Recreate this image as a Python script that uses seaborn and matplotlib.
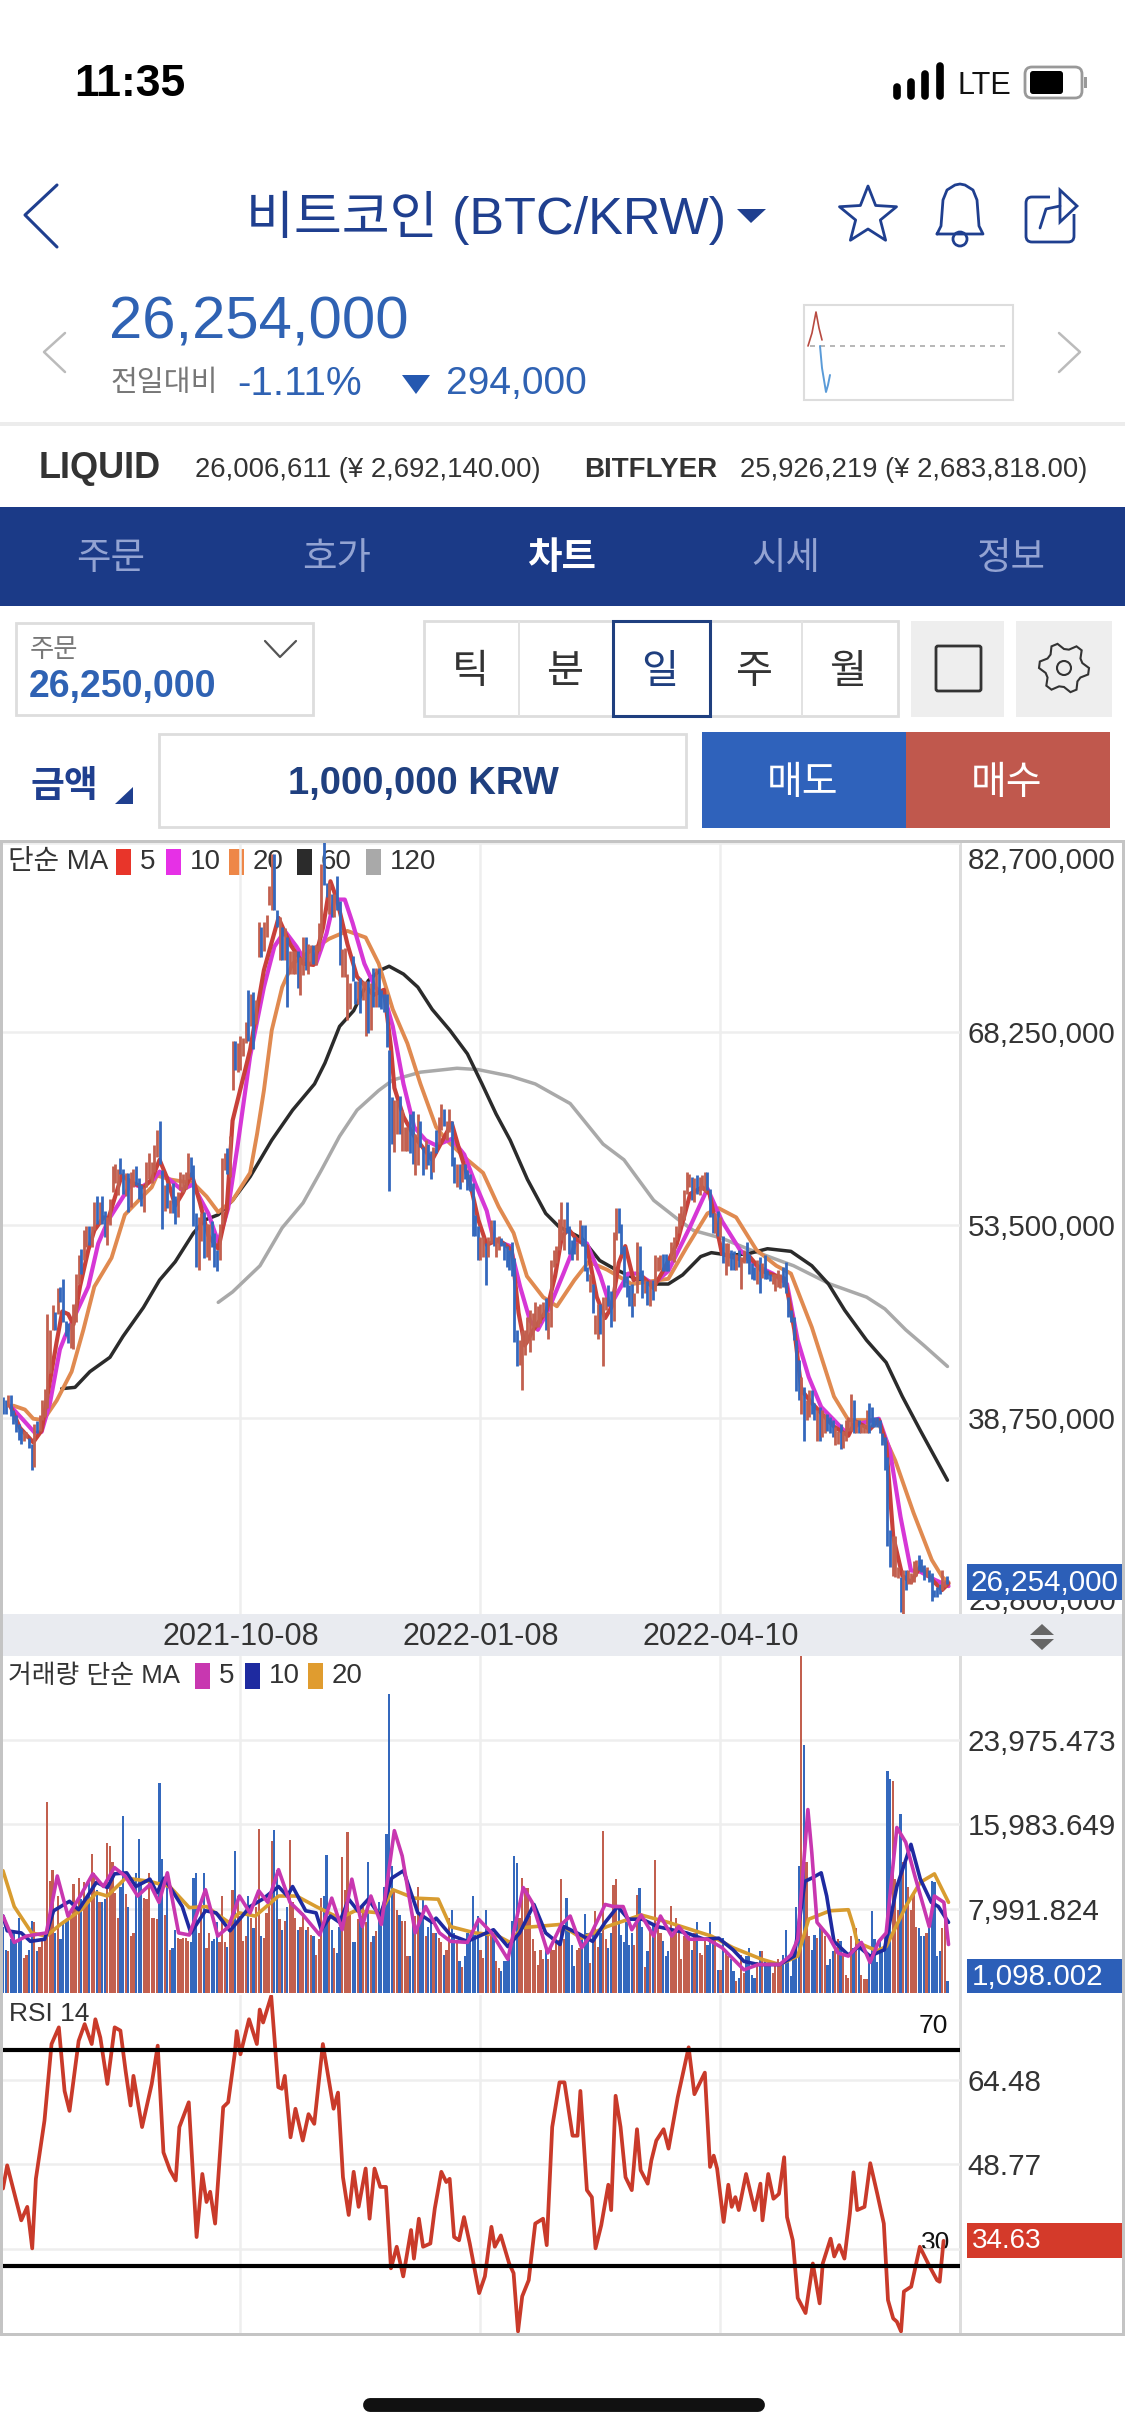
import numpy as np
import pandas as pd
import matplotlib
matplotlib.use("Agg")
import matplotlib.pyplot as plt
from matplotlib.patches import Rectangle, Polygon, FancyBboxPatch, Circle
import seaborn as sns

sns.set_theme(style="white")
plt.rcParams['font.family'] = ['Liberation Sans', 'Noto Sans CJK KR', 'DejaVu Sans']

W, H = 1125, 2436
BLUE = '#3468bd'
RED = '#c2604f'
NAVY = '#1f3f8f'

# daily candles, millions of KRW: (top, bottom, direction), one per day from the left edge
price_candles = [
    (40.4,39.1,'b'),(40.1,39.1,'b'),(40.5,39.6,'r'),(40.5,38.9,'b'),(39.4,38.3,'b'),(39.0,37.7,'b'),(38.3,37.1,'b'),(38.0,36.8,'b'),(37.8,37.0,'r'),(37.7,37.2,'r'),
    (37.2,36.5,'b'),(36.8,34.8,'b'),(38.3,35.0,'r'),(38.5,37.6,'b'),(39.0,37.8,'r'),(40.1,38.6,'r'),(41.0,38.8,'r'),(46.7,39.5,'r'),(45.5,42.2,'r'),(47.4,45.5,'r'),
    (46.9,45.5,'b'),(48.7,46.7,'r'),(48.8,47.6,'b'),(49.4,46.1,'b'),(46.2,45.0,'b'),(46.0,44.5,'b'),(46.0,44.1,'r'),(47.5,44.0,'r'),(49.8,46.1,'r'),(51.2,49.0,'r'),
    (51.7,49.8,'b'),(53.1,50.8,'r'),(53.4,51.8,'r'),(53.4,52.0,'b'),(53.4,51.8,'r'),(55.3,53.1,'r'),(55.7,53.6,'b'),(55.3,53.6,'r'),(55.7,53.6,'b'),(54.6,52.6,'b'),
    (54.1,52.0,'r'),(55.5,53.5,'r'),(58.0,56.0,'r'),(58.2,56.7,'r'),(57.8,55.8,'r'),(58.6,57.4,'b'),(57.8,55.9,'b'),(57.5,55.7,'r'),(57.5,54.5,'b'),(57.6,54.9,'r'),
    (57.8,56.4,'r'),(58.0,56.6,'b'),(57.1,55.5,'b'),(56.6,55.0,'b'),(56.4,54.5,'r'),(58.3,56.4,'r'),(59.0,57.0,'r'),(58.3,56.7,'r'),(59.6,57.6,'r'),(60.8,58.7,'r'),
    (61.5,58.2,'b'),(57.7,53.2,'b'),(56.6,54.6,'r'),(56.7,54.8,'b'),(55.4,54.4,'r'),(56.7,54.4,'b'),(55.7,53.6,'b'),(56.0,54.1,'r'),(57.6,56.2,'r'),(57.4,56.0,'r'),
    (57.6,56.3,'r'),(59.0,57.0,'r'),(58.7,57.2,'b'),(58.1,53.4,'b'),(54.4,50.3,'b'),(54.1,50.1,'r'),(54.4,52.3,'r'),(54.5,51.0,'b'),(53.6,51.1,'r'),(53.6,50.8,'r'),
    (53.8,51.8,'b'),(52.9,50.3,'b'),(51.6,50.0,'b'),(53.6,50.8,'r'),(58.6,53.6,'r'),(59.0,57.7,'r'),(59.4,57.4,'b'),(60.3,57.2,'r'),(67.6,63.8,'r'),(67.6,65.4,'b'),
    (67.4,65.2,'r'),(68.0,65.4,'r'),(67.8,66.4,'r'),(69.0,67.4,'r'),(71.5,67.6,'b'),(71.2,68.7,'r'),(71.3,67.0,'b'),(70.7,68.9,'r'),(76.7,74.0,'r'),(76.3,74.0,'b'),
    (76.7,74.5,'r'),(77.2,75.5,'r'),(79.4,78.0,'r'),(81.9,77.6,'r'),(81.9,77.6,'b'),(77.6,76.3,'b'),(77.1,73.8,'r'),(76.3,73.8,'b'),(76.2,73.8,'r'),(75.5,70.2,'b'),
    (74.5,72.7,'r'),(74.5,72.7,'r'),(74.5,72.7,'r'),(74.5,71.6,'b'),(74.0,71.1,'r'),(75.5,72.6,'r'),(75.5,73.0,'b'),(75.0,72.7,'r'),(74.9,73.5,'r'),(74.9,73.5,'b'),
    (74.9,73.4,'r'),(76.6,74.5,'r'),(81.1,75.5,'r'),(82.8,79.5,'b'),(79.7,78.6,'b'),(79.7,77.3,'r'),(78.8,77.1,'b'),(78.8,77.1,'r'),(80.2,77.6,'b'),(78.3,73.4,'b'),
    (74.6,72.5,'r'),(74.7,72.5,'r'),(72.7,69.2,'r'),(72.0,70.0,'r'),(74.1,72.2,'b'),(72.2,70.4,'b'),(72.2,70.4,'r'),(72.4,69.7,'b'),(72.2,70.7,'r'),(72.2,68.0,'r'),
    (72.2,68.2,'b'),(72.0,68.4,'r'),(73.2,70.2,'b'),(73.2,70.2,'r'),(73.2,70.2,'b'),(71.5,70.0,'b'),(71.2,69.8,'b'),(71.2,67.1,'b'),(66.9,56.1,'b'),(63.3,59.7,'b'),
    (63.1,59.1,'r'),(63.1,60.5,'r'),(63.4,60.5,'b'),(62.3,59.2,'r'),(61.0,59.2,'r'),(61.0,59.2,'r'),(62.0,59.0,'b'),(62.2,58.2,'b'),(60.5,57.3,'r'),(62.0,58.1,'r'),
    (61.5,59.5,'b'),(59.5,57.3,'b'),(60.0,57.8,'r'),(59.7,58.1,'b'),(59.2,57.0,'b'),(59.5,57.6,'r'),(60.8,59.0,'b'),(61.8,59.7,'r'),(62.8,60.8,'r'),(62.4,61.1,'b'),
    (61.5,60.0,'r'),(62.4,60.6,'r'),(61.5,58.0,'b'),(58.7,56.7,'b'),(58.2,56.4,'r'),(58.2,56.3,'b'),(58.2,56.8,'r'),(58.2,57.0,'b'),(57.7,56.2,'b'),(57.4,56.1,'b'),
    (56.7,52.7,'b'),(54.3,52.7,'b'),(53.4,50.8,'b'),(52.6,50.8,'r'),(52.6,51.1,'r'),(52.1,48.9,'b'),(52.6,51.1,'r'),(53.9,52.1,'r'),(53.9,51.9,'b'),(52.6,51.1,'r'),
    (52.7,51.6,'r'),(52.5,51.9,'b'),(52.2,50.8,'b'),(51.9,50.3,'b'),(51.6,50.1,'b'),(52.2,49.6,'b'),(51.0,44.6,'b'),(45.5,42.7,'b'),(44.7,42.8,'r'),(45.5,40.9,'r'),
    (45.5,43.6,'r'),(46.5,44.5,'r'),(47.0,43.8,'r'),(46.8,44.7,'r'),(47.6,45.7,'r'),(47.3,45.7,'r'),(47.5,46.0,'r'),(47.6,46.5,'r'),(47.9,45.5,'b'),(46.9,44.8,'r'),
    (50.8,45.7,'r'),(51.6,50.3,'r'),(51.9,50.6,'r'),(54.0,51.6,'r'),(55.3,52.4,'r'),(54.0,51.6,'r'),(55.3,52.9,'b'),(53.4,51.3,'b'),(52.4,50.8,'b'),(52.6,51.3,'b'),
    (52.2,50.8,'r'),(53.9,52.4,'r'),(53.5,51.9,'b'),(53.5,50.0,'b'),(50.3,49.2,'b'),(49.8,48.4,'r'),(49.0,46.8,'b'),(46.6,45.2,'r'),(47.5,44.8,'r'),(47.5,45.2,'b'),
    (48.0,42.7,'r'),(48.0,47.0,'r'),(48.9,47.3,'b'),(48.5,45.7,'b'),(53.0,46.2,'r'),(54.8,52.4,'r'),(54.8,52.9,'b'),(53.6,51.3,'b'),(51.9,48.8,'b'),(49.6,48.0,'b'),
    (48.9,47.3,'b'),(49.0,46.5,'b'),(48.3,47.3,'r'),(52.2,48.3,'r'),(51.9,49.3,'b'),(50.1,47.9,'b'),(49.3,48.3,'r'),(49.2,47.4,'b'),(49.3,47.3,'r'),(49.3,47.8,'b'),
    (51.2,48.5,'r'),(51.1,50.0,'r'),(51.2,50.1,'r'),(51.3,50.0,'b'),(51.3,50.0,'b'),(50.8,50.0,'b'),(52.2,50.8,'r'),(52.6,50.7,'r'),(53.4,52.4,'r'),(54.4,52.9,'r'),
    (55.0,53.5,'r'),(56.2,53.9,'r'),(57.6,55.9,'r'),(57.4,56.4,'r'),(57.2,55.4,'b'),(57.1,55.3,'r'),(57.3,55.9,'b'),(57.2,55.8,'r'),(57.3,56.2,'r'),(57.6,56.0,'r'),
    (57.6,56.2,'b'),(56.3,54.1,'b'),(54.4,52.9,'b'),(54.4,52.9,'r'),(54.6,52.7,'b'),(54.1,52.6,'r'),(52.7,50.6,'b'),(52.1,49.7,'r'),(52.1,50.4,'r'),(51.6,50.1,'b'),
    (51.5,50.1,'b'),(51.3,50.1,'r'),(51.6,50.3,'b'),(51.1,48.6,'r'),(51.6,50.6,'r'),(52.2,50.6,'b'),(51.3,49.8,'b'),(50.6,49.4,'b'),(50.3,49.3,'b'),(50.8,49.0,'r'),
    (51.1,48.3,'b'),(50.6,49.5,'r'),(51.2,49.4,'b'),(50.1,49.4,'b'),(49.8,49.2,'b'),(49.8,49.0,'r'),(49.8,48.5,'r'),(50.1,48.8,'r'),(49.8,48.7,'r'),(50.3,48.8,'b'),
    (50.7,48.3,'b'),(48.0,46.5,'b'),(47.0,46.1,'b'),(46.5,44.7,'b'),(44.7,40.8,'b'),(43.2,40.1,'b'),(41.9,39.1,'r'),(41.1,37.0,'b'),(40.1,38.6,'r'),(40.9,38.8,'r'),
    (40.9,39.1,'b'),(39.9,38.6,'b'),(39.4,37.0,'r'),(39.6,37.0,'b'),(39.4,37.3,'r'),(39.1,37.6,'r'),(39.1,37.8,'b'),(38.8,37.6,'b'),(38.6,37.3,'b'),(38.1,36.7,'r'),
    (37.8,36.8,'r'),(38.3,36.4,'b'),(37.8,36.5,'r'),(38.6,37.0,'r'),(38.8,37.8,'r'),(40.6,37.8,'r'),(40.1,37.6,'b'),(38.6,37.6,'r'),(38.6,37.6,'b'),(38.3,37.6,'r'),
    (38.3,37.6,'r'),(39.4,37.6,'r'),(39.9,37.6,'b'),(39.6,38.1,'b'),(38.8,38.1,'b'),(38.8,38.1,'b'),(38.6,37.6,'b'),(37.6,36.7,'b'),(37.3,34.8,'b'),(35.8,29.0,'b'),
    (30.2,27.4,'b'),(29.7,26.7,'r'),(29.7,26.6,'r'),(27.4,26.5,'r'),(26.6,23.9,'b'),(27.1,23.8,'r'),(27.1,25.6,'b'),(27.1,26.1,'r'),(26.9,26.1,'r'),(27.8,26.2,'r'),
    (27.9,26.7,'r'),(28.3,27.1,'b'),(28.0,27.0,'b'),(27.5,26.4,'b'),(27.4,26.6,'r'),(27.1,26.2,'b'),(26.9,24.8,'b'),(25.6,25.1,'b'),(25.8,25.1,'b'),(26.1,25.3,'b'),
    (27.1,25.6,'r'),(26.4,25.8,'r'),(26.7,26.1,'b'),
]

# moving averages as (day, value)
ma5_points = [(3,39.6),(6.5,38),(11.6,36.9),(14.8,37.8),(17.4,40.9),(20.5,44.5),(22.7,46.9),(25,46.7),(27,45.9),(29.5,48.8),(32.7,51.6),(35,53.1),(38.5,54.1),(40.4,54),(43,55.7),(45.5,57.3),(50,56.7),(54,56.4),(57,57),(60,58.5),(62.7,57.2),(66,55),(69,56),(72.3,57.4),(75.5,55.2),(78.7,52.7),(82.5,51.7),(85.7,54.6),(88,61.5),(94.7,66.9),(100,73),(105.6,77),(110,75),(115,73.5),(119,73.4),(122.7,76.3),(125.5,79.8),(128,78.4),(132,75),(135.7,72.5),(142,71.1),(146,71.5),(148.7,67.1),(150,64),(153.5,61.8),(157.6,60.3),(164.5,58.5),(168.5,60),(172,61.3),(175,59.2),(179.6,56.2),(182.2,53.9),(185.4,52),(190,52.4),(195,51.6),(197.6,46.8),(200,44.3),(203.3,45.5),(208.4,47),(211.6,49.6),(214.2,52.6),(216.7,53.2),(220,52.4),(223.8,51.9),(227.6,48),(230.8,46.4),(233.4,47.3),(236,50.6),(238.5,51.9),(241.7,49.3),(244.9,49.6),(249.3,48.7),(253.8,50.3),(258.3,52.1),(263.4,55.9),(268,56.4),(270.8,55.9),(275.6,51.3),(284,50.8),(285.3,51.3),(290.8,50),(299.8,49.4),(303.3,45.5),(306,40.9),(310,39.9),(318.5,38.1),(324,37.4),(326.7,38.5),(332.3,37.9),(335.7,38.6),(338.5,36.8),(341.2,29.7),(344.7,26.7),(348,26.2),(351.6,27.4),(357,26.2),(359.9,25.6),(362.4,26.1)]
ma10_points = [(2.7,39.7),(7.8,38.6),(12.3,37.6),(14.8,37.7),(18,39.9),(21.8,44),(23.8,45),(27.6,46.6),(32.7,48.8),(36.5,52.1),(40.4,53.9),(45.5,55.5),(49.3,56.7),(53,56.4),(57.6,57),(60,57.6),(65,56.8),(68.5,56.2),(72.7,56.6),(78.7,54.4),(82.5,52.2),(86.3,54.8),(90,59.7),(94.7,66.4),(100,71.7),(104,74.8),(108,76),(112.5,74.8),(116.5,73.5),(120,73.5),(124,75.8),(127,78.4),(131,78.4),(134,76.6),(138.5,73.5),(142.6,71.7),(146,71.1),(149.4,68.7),(153.5,64.3),(157.6,61),(162,60),(166,59.6),(172,60.1),(176.8,58.9),(181,56.7),(185.4,54.6),(188,52.4),(194.4,51.9),(198.2,48.8),(202,46.2),(205,45.5),(209,47),(214.8,49.8),(220,52.4),(223.8,52.1),(229,49.6),(232.7,47.3),(236,48.5),(239.7,49.8),(243,49.8),(249.3,49),(255,50),(263.4,53.4),(270,56.3),(275.6,53.8),(282.5,51.6),(288.8,50.4),(295,49.8),(300.5,49),(304.6,44.7),(308.8,41.9),(313.6,39.6),(318.5,38.6),(323.3,37.6),(328,38.3),(335.7,38.7),(339.9,36.3),(344,31.2),(348,27.1),(351.6,27),(357,26.4),(362.4,25.9)]
ma20_points = [(4,39.7),(8.4,39.4),(11.6,38.7),(15.5,38.6),(20.6,40.1),(26.3,42.3),(30.8,45.5),(35,48.8),(41.6,51),(46.7,54.3),(52.5,55.5),(57,56.4),(59,57.3),(64,57),(73,56.7),(78,55.7),(82.5,54.5),(88,55.4),(94.7,57.5),(97.4,60.5),(100,63.8),(103,68.4),(107,71.7),(111,73.5),(118,74.5),(125,75.4),(132,76),(139,75.5),(144,73.5),(149.4,70),(155,67.4),(160,64.3),(166,61),(170,60),(178,58.5),(184,57.5),(190,54.9),(195.7,52.9),(200.8,49.6),(207,48),(212.3,47.3),(219,49.3),(224.5,50.7),(231.5,50.1),(241,49),(255,49.4),(262,51.8),(270,54.4),(274.3,54.8),(281,54.1),(288.8,51.6),(296.4,50.4),(302,49.8),(310,45.7),(318.5,40.4),(324,38.6),(335,38.6),(342,35.5),(349,31.5),(356,27.9),(360,26.6),(362.4,26.2)]
ma60_points = [(22.5,41),(27.6,41.1),(33.3,42.3),(41,43.4),(46,45),(53.8,47.2),(60,49.3),(66,50.7),(73,52.9),(77.4,53.9),(82.5,54.3),(88,55.4),(94.7,57.2),(103,60),(111,62.3),(119.4,64.3),(123.4,65.9),(129,68.7),(134.4,69.9),(140,72.2),(144.6,73),(148,73.3),(153.5,72.7),(159,71.7),(164.5,70),(171.3,68.4),(178,66.6),(183.6,64.3),(189,62),(194.4,60),(201,57),(208,54.4),(213,53.4),(221.8,52.5),(228.7,50.8),(234,50.2),(242.5,49.4),(249.4,49),(255,49),(260.5,49.7),(267.4,51.1),(271.5,51.4),(278.4,51.2),(285.3,51.3),(293,51.7),(302,51.5),(310,50.4),(316.4,49),(322.6,47),(331,44.7),(338.5,43),(344.7,40.4),(351.6,37.8),(362,34)]
ma120_points = [(82.5,47.6),(88,48.4),(98.5,50.4),(107,53.3),(115,55.2),(122,57.7),(129,60.3),(135.7,62.3),(144,63.8),(149.4,64.6),(160,65.2),(174,65.5),(182,65.4),(194.4,64.9),(204,64.3),(217.4,62.8),(230,59.7),(238,58.5),(249.4,55.4),(259,53.9),(264.6,53.1),(275.6,52.5),(285.3,51.7),(303,50.4),(317,49),(331,48),(338,47.1),(346,45.5),(353,44.3),(362,42.7)]

# volume in thousands, one per day
volumes = [
    6.3,4.1,4.0,5.1,5.7,4.9,7.1,5.1,3.3,3.6, 4.1,6.8,6.7,4.0,4.4,4.9,5.1,18.1,10.6,11.7,
    5.7,9.2,5.1,6.7,6.7,7.3,7.3,10.3,8.2,10.9, 8.9,10.5,8.9,10.8,13.2,11.4,9.8,8.6,8.6,8.9,
    14.2,13.9,12.4,9.5,7.1,10.1,16.8,9.4,8.2,5.4, 5.7,11.4,14.6,10.8,9,8.9,11.4,7.1,7.1,7,
    19.9,12.7,7.4,11.4,4.1,4.3,6,5.2,5.1,5.2, 5.2,4.9,4.8,10.9,11.4,5.7,8.6,11.4,4.3,5.7,
    4.9,5.1,6.7,4.8,9.2,4.8,4.4,6,9.8,13.5, 9.2,7.3,4.9,5.4,9.2,7.1,6.2,8.2,15.6,5.4,
    5.2,7.6,8.6,14.4,15.5,11.7,7,6,6.8,8.2, 14.5,8.6,7.1,6,6.3,7.6,6,6.3,5.5,5.4,
    3.6,5.1,9,9.2,13.1,7,6,4.3,3.8,6.3, 12.9,9.8,15.3,7.4,4.8,4.8,7,7.3,8.2,6.7,
    12.4,4.8,5.4,5.9,8.6,6.7,10.1,15.1,28.4,12, 9.8,7.9,7.4,6.8,6.8,3.5,3.5,7.4,7.3,10.1,
    7.3,8.9,5.4,6.3,6.7,5.7,5.7,5.2,4.8,3.6, 4.1,7.1,7.9,5.7,4.9,3.0,2.5,3.5,5.7,5.4,
    9.2,5.5,7.3,4.1,3.3,7.9,5.7,5.4,5.4,3, 2.4,2.1,3,3,4.1,6.8,13,12.3,7.1,10.9,
    10,10,7.3,5.1,4,2.7,4.1,3.2,4.6,3.2, 4.4,4.1,4.8,5.0,
    10.8,5.1,9,6.2,4.6,2.6,4.1,4.3,5.1,7.5, 5.7,2.8,5.7,7.8,4.4,5.7,15.4,5.1,4.3,5.7,
    10.2,10.8,7.9,5.5,4.8,6.7,4.6,5.7,4.6,9.3, 10,6.3,2.5,4,6.3,6.5,12.6,6.3,5.7,4.9,
    3.5,4,8.3,5.7,7.1,6,3.2,5.4,5.7,5.4, 4.1,5.7,6.7,3.8,3.6,5.1,4.6,6.7,5.1,5.1,
    2.2,2.2,5.2,3.8,3.5,3.2,2.1,1.1,1.4,3.6, 1.9,3.5,4.3,1.7,1.4,2.9,4,4,3,2.7,
    2.7,1.9,2.7,3.2,2.7,3.6,6,3.5,1.6,3.2, 8.2,12,32,23.5,12.4,5.4,4.1,5.5,5.2,6.3,
    6.3,5.4,2.7,3.2,4,4.1,5.1,4.9,3.5,1.7, 1.4,5.4,4.3,6.2,5.1,1.7,1.3,1.3,3.5,7.8,
    5.1,2.9,5.1,4.3,5.7,21.1,20.3,20.1,10.8,7.9, 17,12.4,12.4,10.1,7.9,9.5,6.3,6.2,5.4,5.4,
    5.7,7,10.6,10.5,3.5,4,6.2,8.4,1.1,
]
vol_ma5_points = [(0,7.3),(4.3,4.8),(9,5.4),(16.6,5.7),(20.8,11.1),(24.9,7.3),(29.6,9.2),(34.4,11.3),(38.5,10.1),(42.7,11.9),(46.8,11.1),(51.6,9.2),(56.4,10.3),(59.8,8.6),(63,11.4),(67.3,5.7),(71.4,5.5),(77.6,9.8),(82.3,5.4),(86.5,6.3),(90.6,9.2),(94.7,7.6),(98,9.7),(101.5,8.6),(105.6,11.7),(110,8.6),(115,7.4),(121.4,5.5),(126,9),(130,6),(133.7,10.8),(137.7,6.3),(141,9.2),(145,6.5),(150,15.4),(153,13),(158,5.7),(162,8.2),(167.3,5.7),(171.5,4.9),(178,4.8),(182.3,7),(187.3,5.7),(193.5,3.2),(199.4,10),(202.8,8.6),(208.8,3.8),(214,6.5),(217.4,7.3),(221.8,4.3),(225,5.4),(230.8,8.4),(234,8.2),(237.7,8.2),(241,6),(244.6,7.4),(249.4,5.4),(252,7.3),(256.3,5.4),(259,6.3),(263,5.1),(270,5.1),(275.6,4.3),(284,2.2),(289.5,2.7),(297.7,2.7),(302,3.6),(304.6,5.1),(308.5,17.4),(310,13.3),(312,6.7),(316.4,5.4),(320,3.8),(324,3.5),(329,4.8),(332.3,2.9),(335.7,4.9),(338.5,5.7),(342.6,15.7),(346,14.3),(349.5,11.1),(355,6.3),(357,9.2),(360.6,8.6),(362.4,4.6)]
vol_ma10_points = [(0,7.3),(1.6,5.9),(7,5.7),(10.5,4.9),(16,5.1),(19.4,7.8),(25.5,8.7),(29,7.9),(35.8,10.5),(40,10),(42.7,11.3),(47.4,11.4),(50.9,10.1),(56.3,10.8),(59,9.5),(61.8,10.9),(68.7,8.2),(72,5.7),(77.6,7.8),(81.7,7.6),(87,5.9),(94.7,8.2),(99.5,8.9),(105.6,10.1),(109,9.2),(111,10.1),(116,7.8),(120,7.6),(122,6),(125.5,7.3),(129,6.7),(132.5,8.9),(136,7.8),(140,8.9),(144.6,7.3),(149,10.9),(153.5,11.6),(159,7.6),(164.5,6.7),(166,7.1),(171.5,5.5),(178,4.9),(188,6),(193.5,4.4),(198,5.7),(203.5,8.4),(208,5.7),(213.5,4.6),(215,6.3),(220,5.7),(226,4.9),(230.8,6.7),(235.6,8.2),(239.7,7),(245,7),(250.8,6.3),(256.3,6),(262,5.7),(268.7,5.1),(274.3,5.2),(279.8,4.1),(284,3),(289.5,2.7),(297.7,2.7),(303.3,3.5),(307.4,10.6),(310,10.9),(313.6,11.4),(315.7,9.2),(318.5,4.9),(324,3.6),(328,4.4),(332.3,3.5),(337.8,4.1),(342.6,10.1),(348,14.1),(351.6,10.8),(355.8,8.6),(358.5,8.2),(362.4,6.7)]
vol_ma20_points = [(0,11.6),(4.3,8.2),(11,5.7),(16.6,5.4),(22,6.5),(30,7.9),(35.8,9.5),(40,9.2),(47,10.9),(56,10.6),(63.9,10.1),(71.4,8.1),(78,8.2),(86.5,6.7),(90.6,7.6),(96.7,7.3),(105.6,9.2),(112.5,9.2),(120,8.2),(129,7.1),(135,7.8),(144.6,7.6),(149.4,9.8),(157.6,9),(166.8,8.9),(171.5,6.3),(180.9,5.7),(189,5.5),(194.3,4.8),(199,6.2),(204,6.3),(213.5,6.5),(221.8,5.2),(231.5,6.3),(244.6,7.4),(255,6.7),(271.5,5.4),(279.8,4.3),(290.8,3.2),(297.7,2.7),(304.6,3.5),(308.8,7),(317,7.8),(324,7.9),(326,6.3),(327.4,4.8),(335,4),(338.5,4.4),(346,8.2),(351.6,10.5),(357,11.3),(362.4,8.6)]

rsi_points = [(0,44.3),(1.6,48.6),(4.4,43.3),(7,38.4),(9.3,40.9),(11.2,33.2),(12.6,46.1),(15.9,56.9),(18.6,71.1),(21.4,74.2),(23.6,62.4),(25.5,58.7),(29,71.7),(31.3,74.8),(34,71.1),(35.4,75.7),(37.3,72.3),(40,63.7),(42.8,74.2),(45,73.6),(47,66.1),(48.9,59.7),(50,65.2),(53.3,55.7),(57,63.7),(59.3,70.8),(61.5,51),(64,47.7),(66.2,45.8),(67.6,55.7),(71.2,60.3),(74.2,35.3),(76.4,47),(78,41.8),(79.4,43.7),(81.3,37.8),(84.4,59.4),(86.3,60.3),(88.8,69.2),(89.6,73.5),(91,69.2),(94.3,75.7),(97.3,71.1),(98.4,77.5),(99.7,75.1),(102.8,80),(105.5,63.1),(106.9,62.8),(108,65.2),(110.2,53.8),(112.1,59.1),(114.9,53.2),(117.1,58.1),(119.3,56.3),(122.6,71.1),(126.7,59.1),(128.4,62.1),(130.3,46.4),(132.5,39.4),(134.4,47.4),(136.3,40.9),(139,48),(140.5,38.7),(142.4,48),(144.6,44.6),(146.8,44.6),(148.7,29.5),(150.9,33.5),(153.4,28),(156.4,36.6),(157.5,31.3),(159.4,38.7),(161,33.5),(163.8,34.1),(165.5,40.6),(168,47.4),(169.9,45.5),(171.2,46.1),(172.9,35.3),(174.8,34.7),(176.7,39),(178.9,34.1),(182.5,24.9),(184.7,28),(187.2,37.2),(188.5,33.5),(190.8,35.6),(194,30.4),(195.7,28.6),(197.4,17.8),(199,24.3),(201.5,27.3),(204,37.8),(207,38.7),(208.4,33.8),(210.5,55.7),(213.3,64),(215.2,64),(218.3,54.1),(220.2,54.1),(221.3,62.4),(223.8,44),(225.7,42.7),(227.1,33.2),(229.3,37.5),(232,45),(233.1,40.3),(234.8,61.5),(236.7,55.7),(238.6,46.4),(241,44),(243,55.3),(244.4,47.7),(247.1,45.2),(248.5,49.5),(250.4,53.2),(253.2,55.3),(255.1,51.7),(258.6,61.2),(262.8,70.5),(265,61.8),(266.9,63.7),(269,65.8),(271,48.3),(272.4,50.4),(273.7,48),(276.2,38.1),(278,45),(279.3,40.9),(280.7,42.7),(282,40.3),(284.8,47),(288.1,40.3),(290.3,45.2),(291.1,38.4),(293.3,47),(295.3,42.4),(297.4,43.3),(299.4,50.1),(300.5,39),(302.7,34.7),(304.6,24),(307.6,21.2),(310.4,30.4),(313,23),(314.2,30.4),(317.2,35),(318.6,31.7),(320.5,33.8),(322.5,31.3),(324.6,39.7),(326,47.3),(327.4,40.3),(330.2,40.9),(332.4,49),(335.1,43.3),(337.6,37.8),(339.2,23.6),(341.2,20.2),(342.6,19.6),(344.2,17.8),(345.3,25.2),(348.1,26.1),(351.4,33.5),(355.2,29.8),(358,27.3),(359,27),(360.5,34.6)]

date_ticks = [91, 183, 275]
date_labels = ['2021-10-08', '2022-01-08', '2022-04-10']
price_ticks = [82.7, 68.25, 53.5, 38.75]
price_tick_labels = ['', '68,250,000', '53,500,000', '38,750,000']
vol_ticks = [7.991824, 15.983649, 23.975473]
vol_tick_labels = ['7,991.824', '15,983.649', '23,975.473']
rsi_ticks = [33.06, 48.77, 64.48]
rsi_tick_labels = ['', '48.77', '64.48']


def px_axes(fig, x0, y0, x1, y1, z=1):
    ax = fig.add_axes([x0 / W, 1 - y1 / H, (x1 - x0) / W, (y1 - y0) / H], zorder=z)
    ax.patch.set_visible(False)
    return ax


def style_panel(ax, ymin, ymax, ticks, labels):
    ax.set_xlim(0, 366.8)
    ax.set_ylim(ymin, ymax)
    ax.set_xticks(date_ticks)
    ax.set_xticklabels([])
    ax.yaxis.tick_right()
    ax.set_yticks(ticks)
    ax.set_yticklabels(labels, fontsize=21.3, color='#333333')
    ax.tick_params(axis='both', length=0, pad=5.5)
    ax.grid(True, color='#eeeeee', linewidth=1.8)
    ax.set_axisbelow(True)
    ax.set_xlabel('')
    ax.set_ylabel('')
    for s in ax.spines.values():
        s.set_visible(False)


def draw_line(ax, points, color, lw):
    xs, ys = zip(*points)
    sns.lineplot(x=list(xs), y=list(ys), color=color, linewidth=lw, estimator=None, ax=ax, legend=False)


def rect(ax, x0, y0, x1, y1, fc='none', ec='none', lw=0, z=2):
    ax.add_patch(Rectangle((x0, y0), x1 - x0, y1 - y0, facecolor=fc, edgecolor=ec, linewidth=lw, zorder=z))


def txt(ax, x, y, s, size, color='#333333', ha='left', weight='normal', z=5):
    ax.text(x, y, s, fontsize=size, color=color, ha=ha, va='center', fontweight=weight, zorder=z)


def legend_row(ax, y, title, title_size, title_end, entries):
    txt(ax, 8, y, title, title_size)
    x = title_end
    for color, label, gap in entries:
        rect(ax, x, y - 13, x + 15, y + 13, fc=color)
        txt(ax, x + 24, y, label, 20)
        x += gap


fig = plt.figure(figsize=(W / 100, H / 100), dpi=100, facecolor='white')

back = px_axes(fig, 0, 0, W, H, z=0)
back.set_xlim(0, W)
back.set_ylim(H, 0)
back.axis('off')
front = px_axes(fig, 0, 0, W, H, z=5)
front.set_xlim(0, W)
front.set_ylim(H, 0)
front.axis('off')

# --- price panel ---
ax_price = px_axes(fig, 3, 842, 960, 1614, z=2)
days = np.arange(len(price_candles))
tops = [c[0] for c in price_candles]
bottoms = [c[1] for c in price_candles]
dirs = [c[2] for c in price_candles]
ax_price.vlines(days, bottoms, tops, colors=[RED if d == 'r' else BLUE for d in dirs], linewidth=2.0, zorder=3)
draw_line(ax_price, ma120_points, '#a9a9a9', 2.5)
draw_line(ax_price, ma60_points, '#2b2b2b', 2.5)
draw_line(ax_price, ma20_points, '#e08a50', 2.8)
draw_line(ax_price, ma10_points, '#d637d6', 3.0)
draw_line(ax_price, ma5_points, '#c8413a', 3.0)
style_panel(ax_price, 23.77, 82.8, price_ticks, price_tick_labels)
ax_price.set_xticklabels(date_labels, fontsize=22, color='#333333')
ax_price.tick_params(axis='x', pad=6)

# --- volume panel ---
ax_vol = px_axes(fig, 3, 1656, 960, 1993, z=2)
vol_df = pd.DataFrame({'day': np.arange(len(volumes)), 'vol': volumes, 'dir': dirs[:len(volumes)]})
sns.barplot(data=vol_df, x='day', y='vol', hue='dir', palette={'r': RED, 'b': BLUE}, native_scale=True,
            dodge=False, width=0.85, errorbar=None, legend=False, saturation=1, linewidth=0, edgecolor='none', ax=ax_vol)
draw_line(ax_vol, vol_ma20_points, '#d89c30', 2.6)
draw_line(ax_vol, vol_ma10_points, '#1e2aa0', 2.6)
draw_line(ax_vol, vol_ma5_points, '#c837b0', 2.6)
style_panel(ax_vol, 0, 31.967, vol_ticks, vol_tick_labels)

# --- RSI panel ---
ax_rsi = px_axes(fig, 3, 1995, 960, 2333, z=2)
draw_line(ax_rsi, rsi_points, '#c93a2a', 2.7)
ax_rsi.axhline(70, color='black', linewidth=3)
ax_rsi.axhline(30, color='black', linewidth=3)
style_panel(ax_rsi, 17.5, 80.2, rsi_ticks, rsi_tick_labels)

# --- chart furniture behind the panels ---
rect(back, 0, 1614, W, 1656, fc='#e9ebf0', z=3)
rect(back, 959, 842, 962, 1614, fc='#dddddd')
rect(back, 959, 1656, 962, 2333, fc='#dddddd')
legend_row(back, 862, '단순 MA', 20, 116, [('#e8352a', '5', 50), ('#e630e6', '10', 63), ('#ee8748', '20', 68), ('#2b2b2b', '60', 69), ('#a9a9a9', '120', 0)])
legend_row(back, 1676, '거래량 단순 MA', 18.6, 195, [('#c837b0', '5', 50), ('#1e2aa0', '10', 63), ('#e09c2f', '20', 0)])
txt(back, 9, 2014, 'RSI 14', 19)
txt(back, 948, 2026, '70', 19, color='#111111', ha='right')
txt(back, 950, 2243, '30', 19, color='#111111', ha='right')
txt(back, 968, 861, '82,700,000', 21.3)
txt(back, 968, 1602, '23,800,000', 21.3, z=2)

# --- chart furniture in front ---
for x0, x1, y0, y1 in [(0, 3, 840, 2336), (1122, 1125, 840, 2336), (0, 1125, 840, 843), (0, 1125, 2333, 2336)]:
    rect(front, x0, y0, x1, y1, fc='#c4c4c4')
rect(front, 967, 1564, 1122, 1600, fc='#2c5fb8')
txt(front, 1044, 1583, '26,254,000', 21.3, color='white', ha='center')
rect(front, 967, 1959, 1122, 1993, fc='#2c5fb8')
txt(front, 972, 1977, '1,098.002', 21.3, color='white')
rect(front, 967, 2223, 1122, 2258, fc='#d43a2a')
txt(front, 972, 2241, '34.63', 20, color='white')
front.add_patch(Polygon([(1042, 1624), (1030, 1635), (1054, 1635)], fc='#666666', ec='none'))
front.add_patch(Polygon([(1042, 1650), (1030, 1639), (1054, 1639)], fc='#666666', ec='none'))

# --- status bar ---
txt(front, 74, 85, '11:35', 32, color='black', weight='bold')
for bx, top in zip([897, 911, 925, 940], [87, 82, 74, 66]):
    front.plot([bx, bx], [top, 96], color='black', lw=5.5, solid_capstyle='round')
txt(front, 957, 86, 'LTE', 22, color='#111111')
front.add_patch(FancyBboxPatch((1026, 68), 55, 29, boxstyle='round,pad=1,rounding_size=7', fc='none', ec='#999999', lw=2))
front.add_patch(FancyBboxPatch((1031, 72), 31, 21, boxstyle='round,pad=1,rounding_size=3', fc='black', ec='none'))
rect(front, 1084, 77, 1087, 88, fc='#999999')

# --- header ---
front.plot([57, 25, 57], [185, 215, 247], color=NAVY, lw=2.2)
txt(front, 486, 218, '비트코인 (BTC/KRW)', 37.5, color=NAVY, ha='center')
front.add_patch(Polygon([(737, 209), (766, 209), (751, 223)], fc=NAVY, ec='none'))
angles = np.deg2rad(np.arange(0, 360, 36) - 90)
radii = np.array([30, 13] * 5)
front.add_patch(Polygon(np.c_[868 + radii * np.cos(angles), 216 + radii * np.sin(angles)], fc='none', ec=NAVY, lw=2, joinstyle='round'))
front.plot([937, 941, 943, 947, 955, 960, 965, 973, 977, 979, 983, 937],
           [234, 226, 200, 190, 185, 184, 185, 190, 200, 226, 234, 234], color=NAVY, lw=2)
front.add_patch(Circle((960, 239), 7, fc='none', ec=NAVY, lw=2, zorder=1))
front.add_patch(FancyBboxPatch((1026, 197), 48, 45, boxstyle='round,pad=0,rounding_size=6', fc='none', ec=NAVY, lw=2))
rect(front, 1050, 190, 1078, 214, fc='white', z=3)
front.add_patch(Polygon([(1060, 190), (1077, 206), (1060, 222)], fc='white', ec=NAVY, lw=2, zorder=4))
front.plot([1060, 1046, 1040], [206, 209, 228], color=NAVY, lw=2, zorder=4)

front.plot([65, 44, 65], [333, 352, 372], color='#bbbbbb', lw=1.8)
front.plot([1059, 1080, 1059], [333, 352, 372], color='#bbbbbb', lw=1.8)
txt(front, 109, 323, '26,254,000', 43, color='#2f62b3')
txt(front, 110, 383, '전일대비', 21, color='#777777')
txt(front, 237, 384, '-1.11%', 29, color='#2f62b3')
front.add_patch(Polygon([(402, 375), (430, 375), (416, 394)], fc='#2558b0', ec='none'))
txt(front, 446, 384, '294,000', 28, color='#2f62b3')

rect(front, 804, 305, 1013, 400, fc='white', ec='#dddddd', lw=1.5)
front.plot([810, 1005], [346, 346], color='#aaaaaa', lw=1.2, ls=(0, (3, 3)))
front.plot([808, 812, 816, 819, 822], [346, 333, 312, 328, 340], color='#b84a40', lw=1.2)
front.plot([820, 822, 826, 828, 830], [346, 368, 392, 385, 375], color='#5a9bd8', lw=1.4)

rect(front, 0, 422, W, 426, fc='#ececec')
txt(front, 39, 468, 'LIQUID', 26, weight='bold')
txt(front, 195, 470, '26,006,611 (¥ 2,692,140.00)', 19.8)
txt(front, 584, 470, 'BITFLYER', 20, weight='bold')
txt(front, 740, 470, '25,926,219 (¥ 2,683,818.00)', 19.8)

# --- tabs ---
rect(front, 0, 507, W, 606, fc='#1b3a87')
for x, s in zip([111, 337, 786, 1011], ['주문', '호가', '시세', '정보']):
    txt(front, x, 559, s, 27, color='#93a3d2', ha='center')
txt(front, 562, 559, '차트', 27, color='white', ha='center', weight='bold')
for x in [152, 377]:
    front.add_patch(Polygon([(x, 591), (x + 15, 591), (x + 15, 576)], fc='#a9b6dc', ec='none'))

# --- order row ---
rect(front, 16, 623, 313, 715, fc='white', ec='#dddddd', lw=2)
txt(front, 30, 650, '주문', 19, color='#777777')
txt(front, 29, 687, '26,250,000', 27, color='#2f62b3', weight='bold')
front.plot([265, 280, 296], [641, 657, 641], color='#555555', lw=1.6)

rect(front, 424, 621, 898, 716, fc='white', ec='#dddddd', lw=2)
for x in [519, 802]:
    rect(front, x - 1, 621, x + 1, 716, fc='#e2e2e2')
rect(front, 613, 621, 710, 716, fc='white', ec='#1f3f7f', lw=2.2, z=3)
for x, s, c in zip([470, 565, 660, 755, 848], ['틱', '분', '일', '주', '월'], ['#333333', '#333333', '#1f3f7f', '#333333', '#333333']):
    txt(front, x, 672, s, 29, color=c, ha='center')

rect(front, 911, 621, 1004, 717, fc='#eeeeee')
rect(front, 1016, 621, 1112, 717, fc='#eeeeee')
front.add_patch(FancyBboxPatch((936, 646), 45, 45, boxstyle='round,pad=0,rounding_size=2', fc='none', ec='#333333', lw=2, zorder=3))
gear_a = np.deg2rad(np.arange(0, 360, 15))
gear_r = np.array([25, 25, 19, 19] * 6)
front.add_patch(Polygon(np.c_[1064 + gear_r * np.cos(gear_a), 668 + gear_r * np.sin(gear_a)], fc='none', ec='#333333', lw=1.5, zorder=3))
front.add_patch(Circle((1064, 668), 7, fc='none', ec='#333333', lw=1.5, zorder=3))

# --- amount row ---
txt(front, 31, 788, '금액', 26.5, color=NAVY, weight='bold')
front.add_patch(Polygon([(115, 804), (133, 804), (133, 787)], fc=NAVY, ec='none'))
rect(front, 159, 734, 686, 827, fc='white', ec='#dddddd', lw=2)
txt(front, 423, 784, '1,000,000 KRW', 27.5, color='#1f3f7f', ha='center', weight='bold')
rect(front, 702, 732, 906, 828, fc='#2f62bb')
rect(front, 906, 732, 1110, 828, fc='#c0584d')
txt(front, 803, 784, '매도', 28, color='white', ha='center')
txt(front, 1007, 784, '매수', 28, color='white', ha='center')

# home indicator
front.plot([370, 758], [2405, 2405], color='#111111', lw=10, solid_capstyle='round')

fig.savefig('out.png', dpi=100, facecolor='white')
